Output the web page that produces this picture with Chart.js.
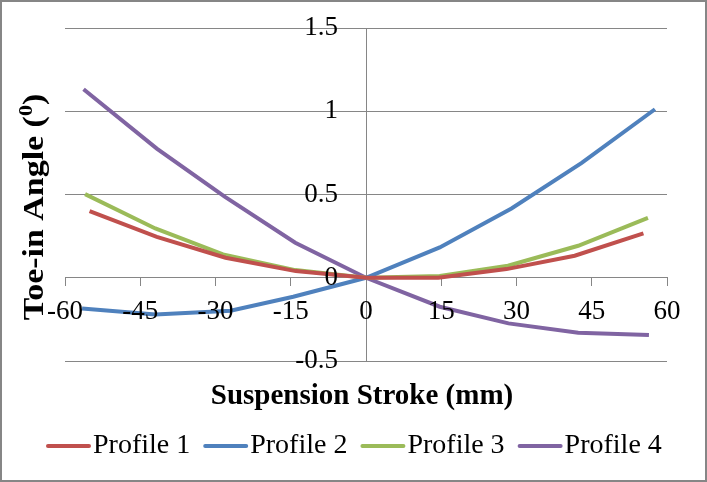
<!DOCTYPE html>
<html>
<head>
<meta charset="utf-8">
<script src="https://cdn.jsdelivr.net/npm/chart.js@4.4.1/dist/chart.umd.min.js"></script>
<style>
  html, body { margin: 0; padding: 0; background: #ffffff; }
  #wrap { width: 707px; height: 482px; position: relative; }
</style>
</head>
<body>
<div id="wrap"><canvas id="c" width="707" height="482"></canvas></div>
<script>
// ---- Data ----
const seriesNames = ["Profile 1", "Profile 2", "Profile 3", "Profile 4"];
const seriesColors = ["#C0504D", "#4F81BD", "#9BBB59", "#8064A2"];

const profile1X = [-55.1, -41.7, -28.0, -14.0, 0, 14.4, 28.0, 41.6, 55.3];
const profile1Y = [0.40, 0.246, 0.12, 0.04, 0, 0.0, 0.052, 0.132, 0.266];

const profile2X = [-56.6, -42.0, -27.0, -14.5, 0, 14.7, 29.0, 43.0, 57.6];
const profile2Y = [-0.184, -0.22, -0.198, -0.114, 0, 0.182, 0.416, 0.69, 1.012];

const profile3X = [-56.0, -42.0, -28.5, -14.1, 0, 14.7, 28.3, 42.3, 56.2];
const profile3Y = [0.502, 0.296, 0.14, 0.046, 0, 0.01, 0.072, 0.192, 0.36];

const profile4X = [-56.3, -41.7, -28.1, -14.1, 0, 14.7, 28.4, 42.3, 56.4];
const profile4Y = [1.132, 0.776, 0.486, 0.21, 0, -0.174, -0.274, -0.33, -0.344];

const xTickMin = -60, xTickMax = 60, xTickStep = 15;
const yTickMin = -0.5, yTickMax = 1.5, yTickStep = 0.5;

const xTitle = "Suspension Stroke (mm)";
const yTitleMain = "Toe-in Angle (";
const yTitleSup = "0";
const yTitleEnd = ")";

// ---- Build chart ----
const xs = [profile1X, profile2X, profile3X, profile4X];
const ys = [profile1Y, profile2Y, profile3Y, profile4Y];
const datasets = seriesNames.map((name, i) => ({
  label: name,
  data: xs[i].map((x, j) => ({ x: x, y: ys[i][j] })),
  borderColor: seriesColors[i],
  backgroundColor: seriesColors[i],
  borderWidth: 4,
  pointRadius: 0,
  tension: 0,
  fill: false
}));

const SERIF = '"Liberation Serif", "Times New Roman", serif';
const AXIS_GRAY = "#868686";
const Y_LABEL_GAP = 28;

const decor = {
  id: "decor",
  beforeDraw(chart) {
    const ctx = chart.ctx;
    ctx.save();
    ctx.fillStyle = "#ffffff";
    ctx.fillRect(0, 0, chart.width, chart.height);
    ctx.restore();
    // move the y tick labels left of the crossing axis
    const ys = chart.scales.y;
    const items = ys.getLabelItems(chart.chartArea);
    if (items && !items._shifted) {
      items.forEach((it) => { it.options.translation[0] -= Y_LABEL_GAP; });
      items._shifted = true;
    }
  },
  afterDraw(chart) {
    const ctx = chart.ctx;
    ctx.save();
    // outer frame
    ctx.strokeStyle = AXIS_GRAY;
    ctx.lineWidth = 2;
    ctx.strokeRect(1, 1, chart.width - 2, chart.height - 2);

    // x title
    ctx.fillStyle = "#000000";
    ctx.font = "bold 29px " + SERIF;
    ctx.textAlign = "center";
    ctx.textBaseline = "middle";
    ctx.fillText(xTitle, 362, 397);

    // y title (rotated, with superscript)
    ctx.save();
    ctx.translate(33, 207);
    ctx.rotate(-Math.PI / 2);
    ctx.scale(1.17, 1);
    const mainFont = "bold 29px " + SERIF;
    const supFont = "bold 19px " + SERIF;
    ctx.font = mainFont;
    const w1 = ctx.measureText(yTitleMain).width;
    const w3 = ctx.measureText(yTitleEnd).width;
    ctx.font = supFont;
    const w2 = ctx.measureText(yTitleSup).width;
    const total = w1 + w2 + w3;
    let px = -total / 2;
    ctx.textAlign = "left";
    ctx.textBaseline = "alphabetic";
    const base = 10;
    ctx.font = mainFont;
    ctx.fillText(yTitleMain, px, base);
    px += w1;
    ctx.font = supFont;
    ctx.fillText(yTitleSup, px, base - 11);
    px += w2;
    ctx.font = mainFont;
    ctx.fillText(yTitleEnd, px, base);
    ctx.restore();

    // legend
    ctx.font = "28px " + SERIF;
    ctx.textAlign = "left";
    ctx.textBaseline = "middle";
    const lineW = 43, gapText = 3, gapItem = 14, ly = 446;
    let lx = 47;
    chart.data.datasets.forEach((ds) => {
      ctx.strokeStyle = ds.borderColor;
      ctx.lineWidth = 4;
      ctx.lineCap = "round";
      ctx.beginPath();
      ctx.moveTo(lx + 1, ly);
      ctx.lineTo(lx + lineW - 1, ly);
      ctx.stroke();
      ctx.fillStyle = "#000000";
      const tx = lx + lineW + gapText;
      ctx.fillText(ds.label, tx, ly);
      lx = tx + ctx.measureText(ds.label).width + gapItem;
    });
    ctx.restore();
  }
};

new Chart(document.getElementById("c"), {
  type: "line",
  data: { datasets: datasets },
  options: {
    responsive: false,
    animation: false,
    layout: { padding: { left: 65, right: 40, top: 28, bottom: 121 } },
    plugins: {
      legend: { display: false },
      tooltip: { enabled: false },
      title: { display: false }
    },
    scales: {
      x: {
        type: "linear",
        position: { y: 0 },
        min: xTickMin,
        max: xTickMax,
        ticks: {
          stepSize: xTickStep,
          color: "#000000",
          font: { family: SERIF, size: 27 },
          padding: 10,
          maxRotation: 0,
          autoSkip: false,
          z: 1
        },
        grid: {
          drawOnChartArea: false,
          drawTicks: true,
          tickLength: 8,
          color: AXIS_GRAY,
          lineWidth: 1
        },
        border: { color: AXIS_GRAY, width: 1 }
      },
      y: {
        type: "linear",
        position: { x: 0 },
        min: yTickMin,
        max: yTickMax,
        ticks: {
          stepSize: yTickStep,
          color: "#000000",
          font: { family: SERIF, size: 27 },
          padding: 0,
          z: 1,
          callback: (v) => String(Math.round(v * 10) / 10)
        },
        grid: {
          drawTicks: false,
          color: AXIS_GRAY,
          lineWidth: 1
        },
        border: { color: AXIS_GRAY, width: 1 }
      }
    }
  },
  plugins: [decor]
});
</script>
</body>
</html>
